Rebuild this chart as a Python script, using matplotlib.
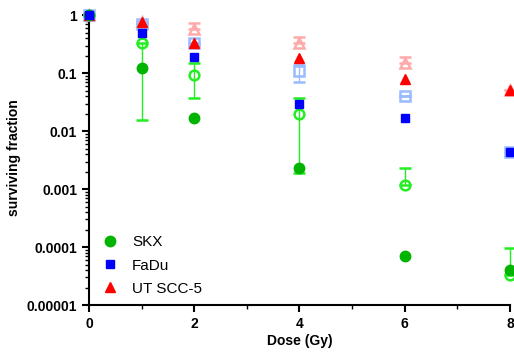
import matplotlib
matplotlib.use("Agg")
import matplotlib.pyplot as plt
import numpy as np
from matplotlib.ticker import LogLocator, FixedLocator, NullFormatter

plt.rcParams['font.family'] = ['Liberation Sans', 'DejaVu Sans']

dose = [0, 1, 2, 4, 6, 8]

# filled markers (legend series)
skx = [1.0, 0.122, 0.0168, 0.0023, 7.0e-5, 4.1e-5]
fadu = [1.0, 0.49, 0.19, 0.029, 0.0168, 0.0044]
utscc5 = [1.0, 0.75, 0.33, 0.18, 0.079, 0.051]

# open markers
skx_open = [1.0, 0.33, 0.093, 0.020, 0.0012, 3.3e-5]
skx_open_lo = [0, 0.3145, 0.056, 0.0181, 0, 0]
skx_open_hi = [0, 0, 0.057, 0.018, 0.0011, 6.2e-5]

fadu_open = [1.0, 0.70, 0.33, 0.108, 0.040, 0.0044]
fadu_open_lo = [0, 0, 0, 0.038, 0, 0.0006]
fadu_open_hi = [0, 0, 0, 0.03, 0, 0]

ut_open = [1.0, 0.75, 0.57, 0.33, 0.15, 0.051]
ut_open_lo = [0, 0, 0, 0, 0, 0]
ut_open_hi = [0, 0, 0.16, 0.09, 0.04, 0]

fig = plt.figure(figsize=(5.14, 3.54), dpi=100)
ax = fig.add_axes([0.173, 0.138, 0.819, 0.832])

def open_series(y, lo, hi, color, marker, ms):
    ax.errorbar(dose, y, yerr=[lo, hi], fmt=marker, ms=ms, mfc='none',
                mec=color, mew=1.8, ecolor=color, elinewidth=1, capsize=4,
                capthick=1, clip_on=False, zorder=3)

open_series(ut_open, ut_open_lo, ut_open_hi, '#ffaaaa', '^', 7.5)
open_series(skx_open, skx_open_lo, skx_open_hi, '#22ee22', 'o', 7)
open_series(fadu_open, fadu_open_lo, fadu_open_hi, '#99bbff', 's', 7.5)

l_ut, = ax.plot(dose, utscc5, '^', color='#ff0000', ms=6.5, clip_on=False, zorder=4, label='UT SCC-5')
l_skx, = ax.plot(dose, skx, 'o', color='#00b400', ms=7.5, clip_on=False, zorder=4, label='SKX')
l_fadu, = ax.plot(dose, fadu, 's', color='#0000ff', ms=6, clip_on=False, zorder=4, label='FaDu')

ax.set_yscale('log')
ax.set_ylim(1e-5, 1.2)
ax.set_xlim(0, 8)

ax.yaxis.set_major_locator(FixedLocator([1e-5, 1e-4, 1e-3, 1e-2, 1e-1, 1]))
ax.set_yticklabels(['0.00001', '0.0001', '0.001', '0.01', '0.1', '1'])
ax.yaxis.set_minor_locator(LogLocator(base=10, subs=np.arange(2, 10)))
ax.yaxis.set_minor_formatter(NullFormatter())
ax.set_xticks([0, 2, 4, 6, 8])
ax.set_xticks([1, 3, 5, 7], minor=True)

for s in ['top', 'right']:
    ax.spines[s].set_visible(False)
for s in ['left', 'bottom']:
    ax.spines[s].set_linewidth(1.5)
ax.tick_params(axis='both', which='major', length=5, width=1.5, labelsize=10)
ax.tick_params(axis='both', which='minor', length=3, width=1)
for lbl in ax.get_xticklabels() + ax.get_yticklabels():
    lbl.set_fontweight('bold')

ax.set_xlabel('Dose (Gy)', fontsize=10, fontweight='bold', labelpad=2)
ax.set_ylabel('surviving fraction', fontsize=10, fontweight='bold', labelpad=4)

ax.legend([l_skx, l_fadu, l_ut], ['SKX', 'FaDu', 'UT SCC-5'],
          loc='lower left', bbox_to_anchor=(-0.025, -0.025), frameon=False,
          fontsize=11, handletextpad=0.4, labelspacing=0.6, borderpad=0.6)

fig.savefig('out.png', dpi=100)
